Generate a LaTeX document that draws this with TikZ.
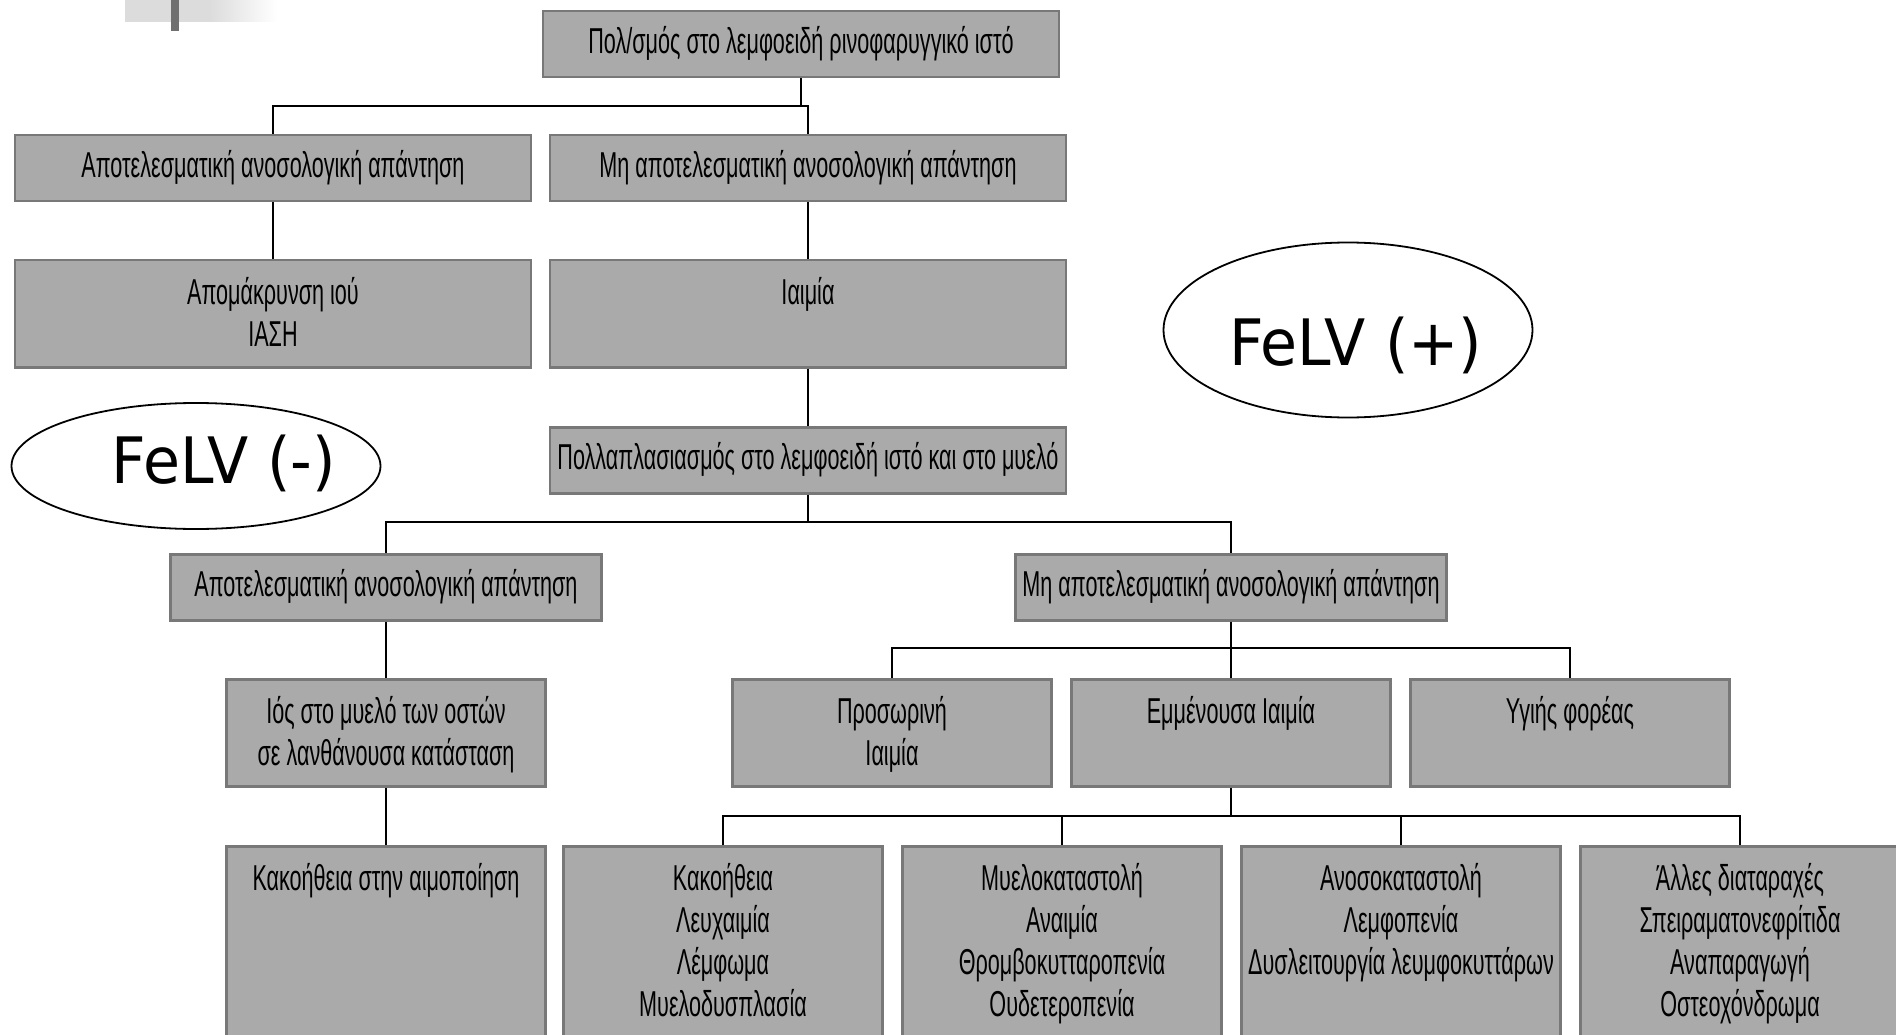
\documentclass[tikz,border=0pt]{standalone}
\usepackage{fontspec}
\usetikzlibrary{shapes.geometric}
\newfontfamily\boxfont[FakeStretch=0.6]{Liberation Sans}
\newfontfamily\felvfont[FakeStretch=0.94]{DejaVu Sans}
\definecolor{boxgray}{HTML}{AAAAAA}
\definecolor{edgegray}{HTML}{787878}
\definecolor{fadegray}{HTML}{DCDCDC}
\definecolor{bargray}{HTML}{707070}

\tikzset{
  box/.style={draw=edgegray, fill=boxgray, line width=2.5pt, inner sep=0pt,
    anchor=north, align=flush center,
    font=\boxfont\fontsize{36}{42}\selectfont},
  wide/.style={box, text width=516pt, text height=42pt, text depth=24pt},
  widetall/.style={box, text width=516pt, text height=44pt, text depth=63pt},
  mid/.style={box, text width=431pt, text height=42pt, text depth=24pt},
  narrow/.style={box, text width=319pt, text height=44pt, text depth=63pt},
  deep/.style={box, text width=319pt, text height=44pt, text depth=250pt},
  link/.style={line width=2pt},
  oval/.style={draw, ellipse, line width=1.8pt, inner sep=0pt},
  felv/.style={inner sep=0pt, anchor=base, font=\felvfont\fontsize{64}{70}\selectfont}
}

\begin{document}
\begin{tikzpicture}[x=1pt, y=-1pt]
  \useasboundingbox (0,0) rectangle (1896,1035);
  \clip (0,0) rectangle (1896,1035);
  \fill[white] (0,0) rectangle (1896,1035);

  % corner mark
  \fill[fadegray] (125,0) rectangle (210,22);
  \shade[left color=fadegray, right color=white] (210,0) rectangle (277,22);
  \fill[bargray] (171,0) rectangle (179,31);

  % boxes
  \node[wide] (top) at (801,10) {Πολ/σμός στο λεμφοειδή ρινοφαρυγγικό ιστό};

  \node[wide] (effA) at (273,134) {Αποτελεσματική ανοσολογική απάντηση};
  \node[wide] (ineffA) at (808,134) {Μη αποτελεσματική ανοσολογική απάντηση};

  \node[widetall] (clear) at (273,259) {Απομάκρυνση ιού\\ΙΑΣΗ};
  \node[widetall] (viraemia) at (808,259) {Ιαιμία};

  \node[wide] (replic) at (808,426) {Πολλαπλασιασμός στο λεμφοειδή ιστό και στο μυελό};

  \node[mid] (effB) at (386,553) {Αποτελεσματική ανοσολογική απάντηση};
  \node[mid] (ineffB) at (1231,553) {Μη αποτελεσματική ανοσολογική απάντηση};

  \node[narrow] (latent) at (386,678) {Ιός στο μυελό των οστών\\σε λανθάνουσα κατάσταση};
  \node[narrow] (transient) at (892,678) {Προσωρινή\\Ιαιμία};
  \node[narrow] (persist) at (1231,678) {Εμμένουσα Ιαιμία};
  \node[narrow] (carrier) at (1570,678) {Υγιής φορέας};

  \node[deep] (malig) at (386,845) {Κακοήθεια στην αιμοποίηση};
  \node[deep] (tumour) at (723,845) {Κακοήθεια\\Λευχαιμία\\Λέμφωμα\\Μυελοδυσπλασία};
  \node[deep] (bone) at (1062,845) {Μυελοκαταστολή\\Αναιμία\\Θρομβοκυτταροπενία\\Ουδετεροπενία};
  \node[deep] (immune) at (1401,845) {Ανοσοκαταστολή\\Λεμφοπενία\\Δυσλειτουργία λευμφοκυττάρων};
  \node[deep] (other) at (1740,845) {Άλλες διαταραχές\\Σπειραματονεφρίτιδα\\Αναπαραγωγή\\Οστεοχόνδρωμα};

  % bus levels
  \coordinate (bus1) at (0,106);
  \coordinate (bus2) at (0,522);
  \coordinate (bus3) at (0,648);
  \coordinate (bus4) at (0,816);

  % connectors
  \draw[link] (top.south) -- (top.south |- bus1);
  \draw[link] (effA.north) -- (effA.north |- bus1) -| (ineffA.north);
  \draw[link] (effA.south) -- (clear.north);
  \draw[link] (ineffA.south) -- (viraemia.north);
  \draw[link] (viraemia.south) -- (replic.north);

  \draw[link] (replic.south) -- (replic.south |- bus2);
  \draw[link] (effB.north) -- (effB.north |- bus2) -| (ineffB.north);
  \draw[link] (effB.south) -- (latent.north);
  \draw[link] (latent.south) -- (malig.north);

  \draw[link] (ineffB.south) -- (persist.north);
  \draw[link] (transient.north) -- (transient.north |- bus3) -| (carrier.north);

  \draw[link] (persist.south) -- (persist.south |- bus4);
  \draw[link] (tumour.north) -- (tumour.north |- bus4) -| (other.north);
  \draw[link] (bone.north) -- (bone.north |- bus4);
  \draw[link] (immune.north) -- (immune.north |- bus4);

  % ovals
  \node[oval, minimum width=369pt, minimum height=175pt] (posoval) at (1348,330) {};
  \node[felv] (pos) at ([shift={(8,35)}]posoval.center) {FeLV (+)};

  \node[oval, minimum width=369pt, minimum height=126pt] (negoval) at (196,466) {};
  \node[felv] (neg) at ([shift={(28,17)}]negoval.center) {FeLV (-)};
\end{tikzpicture}
\end{document}
